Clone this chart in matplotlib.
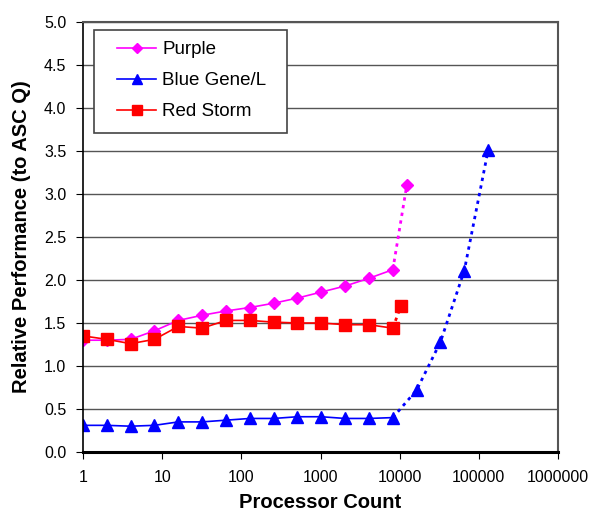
import matplotlib
matplotlib.use("Agg")
import matplotlib.pyplot as plt
from matplotlib.patches import Rectangle
from matplotlib.ticker import FixedLocator, NullLocator, FuncFormatter

plt.rcParams['font.family'] = ['Liberation Sans', 'DejaVu Sans']

# processor counts for the measured (solid) part
procs = [1, 2, 4, 8, 16, 32, 64, 128, 256, 512, 1024, 2048, 4096, 8192]

purple = [1.30, 1.30, 1.31, 1.41, 1.53, 1.59, 1.64, 1.68, 1.73, 1.79, 1.86, 1.93, 2.02, 2.12]
bgl = [0.31, 0.31, 0.30, 0.31, 0.35, 0.35, 0.37, 0.39, 0.39, 0.41, 0.41, 0.39, 0.39, 0.40]
redstorm = [1.35, 1.31, 1.26, 1.31, 1.46, 1.44, 1.53, 1.53, 1.51, 1.50, 1.50, 1.48, 1.48, 1.44]

# projected (dotted) part
purple_ext_x = [8192, 12288]
purple_ext_y = [2.12, 3.10]
bgl_ext_x = [8192, 16384, 32768, 65536, 131072]
bgl_ext_y = [0.40, 0.72, 1.28, 2.11, 3.51]
red_ext_x = [8192, 10368]
red_ext_y = [1.44, 1.70]

W, H = 592, 514
fig = plt.figure(figsize=(W / 100, H / 100), dpi=100)
ax = fig.add_axes([83 / W, 1 - 452 / H, 475 / W, 430 / H])

ax.plot(procs, purple, color='#FF00FF', marker='D', markersize=6, lw=1.2, label='Purple')
ax.plot(procs, bgl, color='#0000FF', marker='^', markersize=9, lw=1.2, label='Blue Gene/L')
ax.plot(procs, redstorm, color='#FF0000', marker='s', markersize=9, lw=1.2, label='Red Storm')

ax.plot(purple_ext_x[1:], purple_ext_y[1:], color='#FF00FF', marker='D', markersize=6, lw=0)
ax.plot(purple_ext_x, purple_ext_y, color='#FF00FF', lw=2, ls=(0, (1.2, 1.6)))
ax.plot(bgl_ext_x[1:], bgl_ext_y[1:], color='#0000FF', marker='^', markersize=9, lw=0)
ax.plot(bgl_ext_x, bgl_ext_y, color='#0000FF', lw=2, ls=(0, (1.2, 1.6)))
ax.plot(red_ext_x[1:], red_ext_y[1:], color='#FF0000', marker='s', markersize=9, lw=0)
ax.plot(red_ext_x, red_ext_y, color='#FF0000', lw=2, ls=(0, (1.2, 1.6)))

ax.set_xscale('log')
ax.set_xlim(1, 1e6)
ax.set_ylim(0, 5)
ax.xaxis.set_major_locator(FixedLocator([1, 10, 100, 1000, 10000, 100000, 1000000]))
ax.xaxis.set_minor_locator(NullLocator())
ax.xaxis.set_major_formatter(FuncFormatter(lambda v, p: '%d' % round(v)))
ax.set_yticks([i * 0.5 for i in range(11)])
ax.yaxis.set_major_formatter(FuncFormatter(lambda v, p: '%.1f' % v))

ax.yaxis.grid(True, color='#555555', lw=1)
ax.set_axisbelow(True)
for s in ['top', 'right']:
    ax.spines[s].set_color('#555555')
    ax.spines[s].set_linewidth(1.5)
ax.spines['left'].set_linewidth(1.2)
ax.spines['bottom'].set_linewidth(2.2)
ax.tick_params(axis='both', labelsize=11.5, length=5, direction='out')
ax.tick_params(axis='x', pad=8)
ax.tick_params(axis='y', pad=7)

ax.set_xlabel('Processor Count', fontsize=14.5, fontweight='bold', labelpad=6)
ax.set_ylabel('Relative Performance (to ASC Q)', fontsize=14.5, fontweight='bold', labelpad=9)

# legend box drawn separately so the padding matches the original
box = Rectangle((94 / W, 1 - 133 / H), 193 / W, 103 / H, transform=fig.transFigure,
                facecolor='white', edgecolor='#444444', lw=1.2, zorder=4)
ax.add_patch(box)
leg = ax.legend(loc='upper left', bbox_to_anchor=(117 / W, 1 - 41 / H),
                bbox_transform=fig.transFigure, fontsize=13.5, frameon=False,
                borderpad=0, labelspacing=0.75, handlelength=2.1, handletextpad=0.3,
                borderaxespad=0, markerscale=0.85)
leg.set_zorder(5)

fig.savefig('out.png', dpi=100)
